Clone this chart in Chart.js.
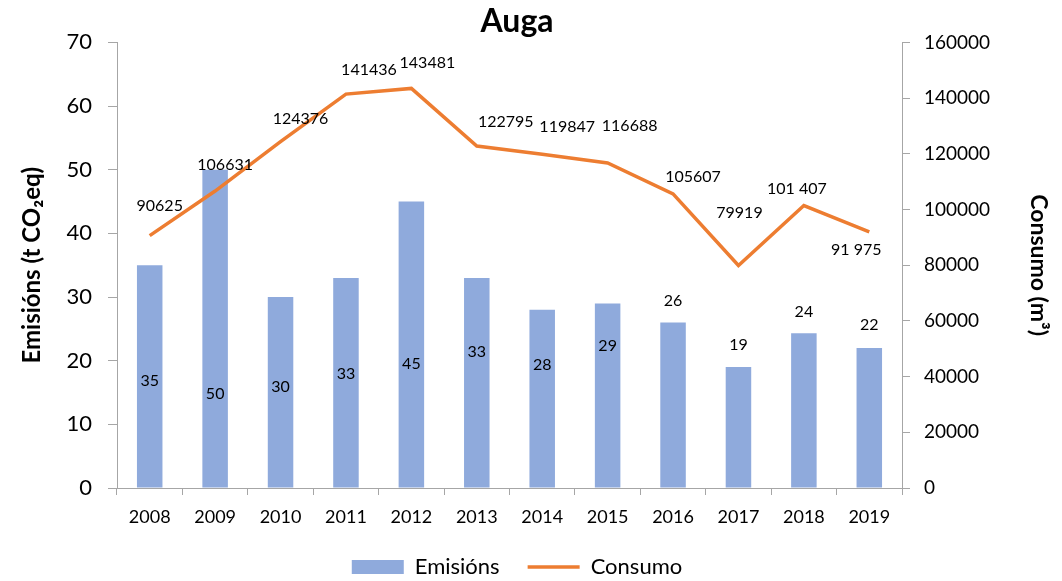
<!DOCTYPE html>
<html>
<head>
<meta charset="utf-8">
<script src="https://cdn.jsdelivr.net/npm/chart.js@4"></script>
<style>
  body { margin: 0; background: #fff; }
  #caixa { width: 1062px; height: 581px; }
</style>
</head>
<body>
<div id="caixa"><canvas id="grafico"></canvas></div>
<script>
const anos = ['2008', '2009', '2010', '2011', '2012', '2013', '2014', '2015', '2016', '2017', '2018', '2019'];
const emisions = [35, 50, 30, 33, 45, 33, 28, 29, 26, 19, 24.3, 22];
const consumo = [90625, 106631, 124376, 141436, 143481, 122795, 119847, 116688, 105607, 79919, 101407, 91975];
const etiquetasConsumo = ['90625', '106631', '124376', '141436', '143481', '122795', '119847', '116688', '105607', '79919', '101 407', '91 975'];

// desprazamento das etiquetas (px) respecto da barra / do punto
const desprazBarras = [116, 224, 90, 96, 162, 74, 55, 42, -22, -22, -21, -23];
const desprazLinha = [[10, -30], [10, -26], [20, -23], [23, -24], [16, -26], [29, -24],
                      [25, -27], [22, -37], [20, -17], [1, -53], [-7, -17], [-13, 18]];

const fonte = 'Lato, "Open Sans", sans-serif';
const gris = '#a6a6a6';

const etiquetas = {
    id: 'etiquetas',
    afterDatasetsDraw(chart) {
        const ctx = chart.ctx;
        ctx.save();
        ctx.font = '16px ' + fonte;
        ctx.fillStyle = '#000';
        ctx.textAlign = 'center';
        ctx.textBaseline = 'middle';
        chart.getDatasetMeta(0).data.forEach((barra, i) => {
            ctx.fillText(String(Math.round(emisions[i])), barra.x, barra.y + desprazBarras[i]);
        });
        chart.getDatasetMeta(1).data.forEach((p, i) => {
            ctx.fillText(etiquetasConsumo[i], p.x + desprazLinha[i][0], p.y + desprazLinha[i][1]);
        });
        ctx.restore();
    }
};

new Chart(document.getElementById('grafico'), {
    type: 'bar',
    data: {
        labels: anos,
        datasets: [{
            label: 'Emisións',
            data: emisions,
            backgroundColor: '#8FAADC',
            barPercentage: 0.39,
            categoryPercentage: 1,
            pointStyle: 'rect',
            yAxisID: 'y',
            order: 2
        }, {
            type: 'line',
            label: 'Consumo',
            data: consumo,
            borderColor: '#ED7D31',
            backgroundColor: '#ED7D31',
            borderWidth: 3.5,
            pointRadius: 0,
            pointStyle: 'line',
            tension: 0,
            yAxisID: 'y1',
            order: 1
        }]
    },
    options: {
        responsive: true,
        maintainAspectRatio: false,
        animation: false,
        layout: { padding: { right: 28, bottom: -7 } },
        plugins: {
            title: {
                display: true,
                text: 'Auga',
                color: '#000',
                font: { family: fonte, size: 32, weight: 'bold' },
                padding: { top: 2, bottom: 2 }
            },
            legend: {
                position: 'bottom',
                labels: {
                    usePointStyle: true,
                    pointStyleWidth: 52,
                    boxHeight: 14,
                    padding: 28,
                    color: '#000',
                    font: { family: fonte, size: 22 },
                    sort: (a, b) => a.datasetIndex - b.datasetIndex
                }
            },
            tooltip: { enabled: false }
        },
        scales: {
            x: {
                grid: { drawOnChartArea: false, color: gris, tickLength: 7 },
                border: { color: gris },
                ticks: { color: '#000', font: { family: fonte, size: 18 }, padding: 11 },
                afterFit: s => { s.height = 40; }
            },
            y: {
                position: 'left',
                min: 0,
                max: 70,
                ticks: { stepSize: 10, color: '#000', font: { family: fonte, size: 22 }, padding: 16 },
                grid: { drawOnChartArea: false, color: gris, tickLength: 9 },
                border: { color: gris },
                title: {
                    display: true,
                    text: 'Emisións (t CO₂eq)',
                    color: '#000',
                    font: { family: fonte, size: 24, weight: 'bold' },
                    padding: { top: 18, bottom: 0 }
                },
                afterFit: s => { s.width = 117; }
            },
            y1: {
                position: 'right',
                min: 0,
                max: 160000,
                ticks: { stepSize: 20000, color: '#000', font: { family: fonte, size: 19 }, padding: 14,
                         callback: v => String(v) },
                grid: { drawOnChartArea: false, color: gris, tickLength: 8 },
                border: { color: gris },
                title: {
                    display: true,
                    text: 'Consumo (m³)',
                    color: '#000',
                    font: { family: fonte, size: 23, weight: 'bold' },
                    padding: { top: -18, bottom: 0 }
                },
                afterFit: s => { s.width = 132; }
            }
        }
    },
    plugins: [etiquetas]
});
</script>
</body>
</html>
